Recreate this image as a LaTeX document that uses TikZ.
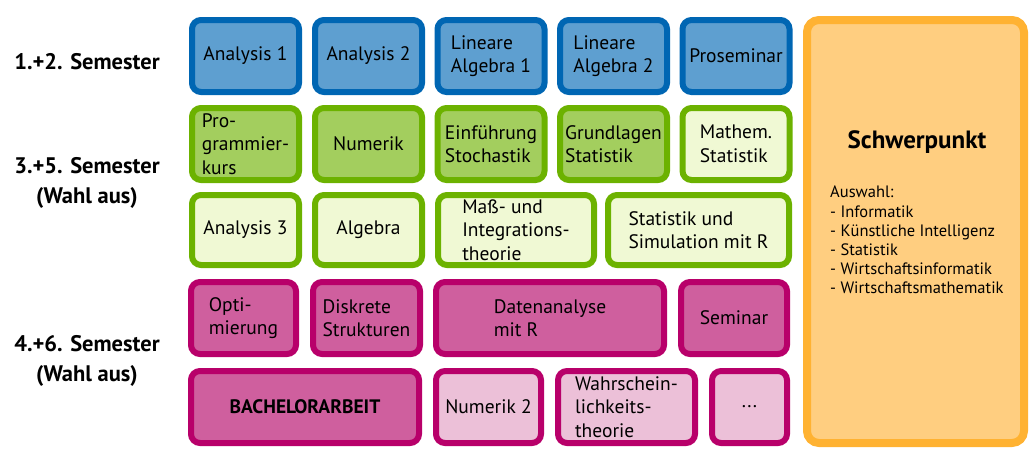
\documentclass[tikz,border=0pt]{standalone}
\usepackage{fontspec}
\setmainfont{PT Sans}
\definecolor{blueline}{RGB}{0,102,179}
\definecolor{bluefill}{RGB}{94,159,208}
\definecolor{greenline}{RGB}{108,178,0}
\definecolor{greenfill}{RGB}{163,206,94}
\definecolor{greenlight}{RGB}{240,249,212}
\definecolor{magline}{RGB}{184,0,106}
\definecolor{magfill}{RGB}{207,95,158}
\definecolor{maglight}{RGB}{236,192,216}
\definecolor{orangeline}{RGB}{255,178,50}
\definecolor{orangefill}{RGB}{255,206,128}
\begin{document}
\begin{tikzpicture}[x=1pt,y=-1pt,
  modul/.style={draw,line width=6pt,rounded corners=9pt,align=left,
    font=\fontsize{19.5}{23.5}\selectfont,inner sep=0pt,minimum width=107pt},
  pflicht/.style={modul,draw=blueline,fill=bluefill,minimum height=72pt},
  gruen/.style={modul,draw=greenline,fill=greenfill,minimum height=72pt},
  gruenhell/.style={modul,draw=greenline,fill=greenlight,minimum height=70pt},
  lila/.style={modul,draw=magline,fill=magfill,minimum height=72pt},
  lilahell/.style={modul,draw=magline,fill=maglight,minimum height=72pt},
  semester/.style={font=\fontsize{22.5}{30}\selectfont\bfseries,align=center}]
  \useasboundingbox (0,0) rectangle (1033,453);

  \node[semester] (sem12) at (87,62) {1.+2. Semester};
  \node[semester] (sem35) at (87,183) {3.+5. Semester\\(Wahl aus)};
  \node[semester] (sem46) at (87,361) {4.+6. Semester\\(Wahl aus)};

  \node[pflicht] (ana1) at (245.5,56) {Analysis 1};
  \node[pflicht] (ana2) at (368.5,56) {Analysis 2};
  \node[pflicht] (la1) at (491,56) {Lineare\\Algebra 1};
  \node[pflicht] (la2) at (613.5,56) {Lineare\\Algebra 2};
  \node[pflicht] (prosem) at (736,56) {Proseminar};

  \node[gruen] (prog) at (245.5,144) {Pro-\\grammier-\\kurs};
  \node[gruen] (num) at (368.5,144) {Numerik};
  \node[gruen] (stoch) at (491,144) {Einführung\\Stochastik};
  \node[gruen] (grstat) at (613.5,144) {Grundlagen\\Statistik};
  \node[gruenhell,minimum height=72pt] (mstat) at (736,144) {Mathem.\\Statistik};

  \node[gruenhell] (ana3) at (245.5,230) {Analysis 3};
  \node[gruenhell] (alg) at (368.5,230) {Algebra};
  \node[gruenhell,minimum width=156pt] (mass) at (516,230) {Maß- und\\Integrations-\\theorie};
  \node[gruenhell,minimum width=181pt] (simr) at (698.5,230) {Statistik und\\Simulation mit R};

  \node[lila,minimum width=105pt] (opti) at (243.5,318) {Opti-\\mierung};
  \node[lila] (diskr) at (366.5,318) {Diskrete\\Strukturen};
  \node[lila,minimum width=228pt] (daten) at (550,318) {Datenanalyse\\mit R};
  \node[lila,minimum width=106pt] (sem) at (734,318) {Seminar};

  \node[lila,minimum width=228pt,font=\fontsize{19.5}{23.5}\selectfont\bfseries] (ba) at (305,407) {BACHELORARBEIT};
  \node[lilahell,minimum width=105pt] (num2) at (488.5,407) {Numerik 2};
  \node[lilahell,minimum width=137pt] (wth) at (626.5,407) {Wahrschein-\\lichkeits-\\theorie};
  \node[lilahell,minimum width=75pt] (weitere) at (749.5,407) {...};

  \node[draw=orangeline,fill=orangefill,line width=8pt,rounded corners=12pt,
    minimum width=217pt,minimum height=423pt] (schwer) at (915.5,231.5) {};
  \node[font=\fontsize{25}{30}\selectfont\bfseries] (schwtitel) at (917,142) {Schwerpunkt};
  \node[font=\fontsize{16.5}{19.2}\selectfont,align=left,anchor=north west,inner sep=0pt]
    (auswahl) at (830,186) {Auswahl:\\- Informatik\\- Künstliche Intelligenz\\- Statistik\\- Wirtschaftsinformatik\\- Wirtschaftsmathematik};
\end{tikzpicture}
\end{document}
